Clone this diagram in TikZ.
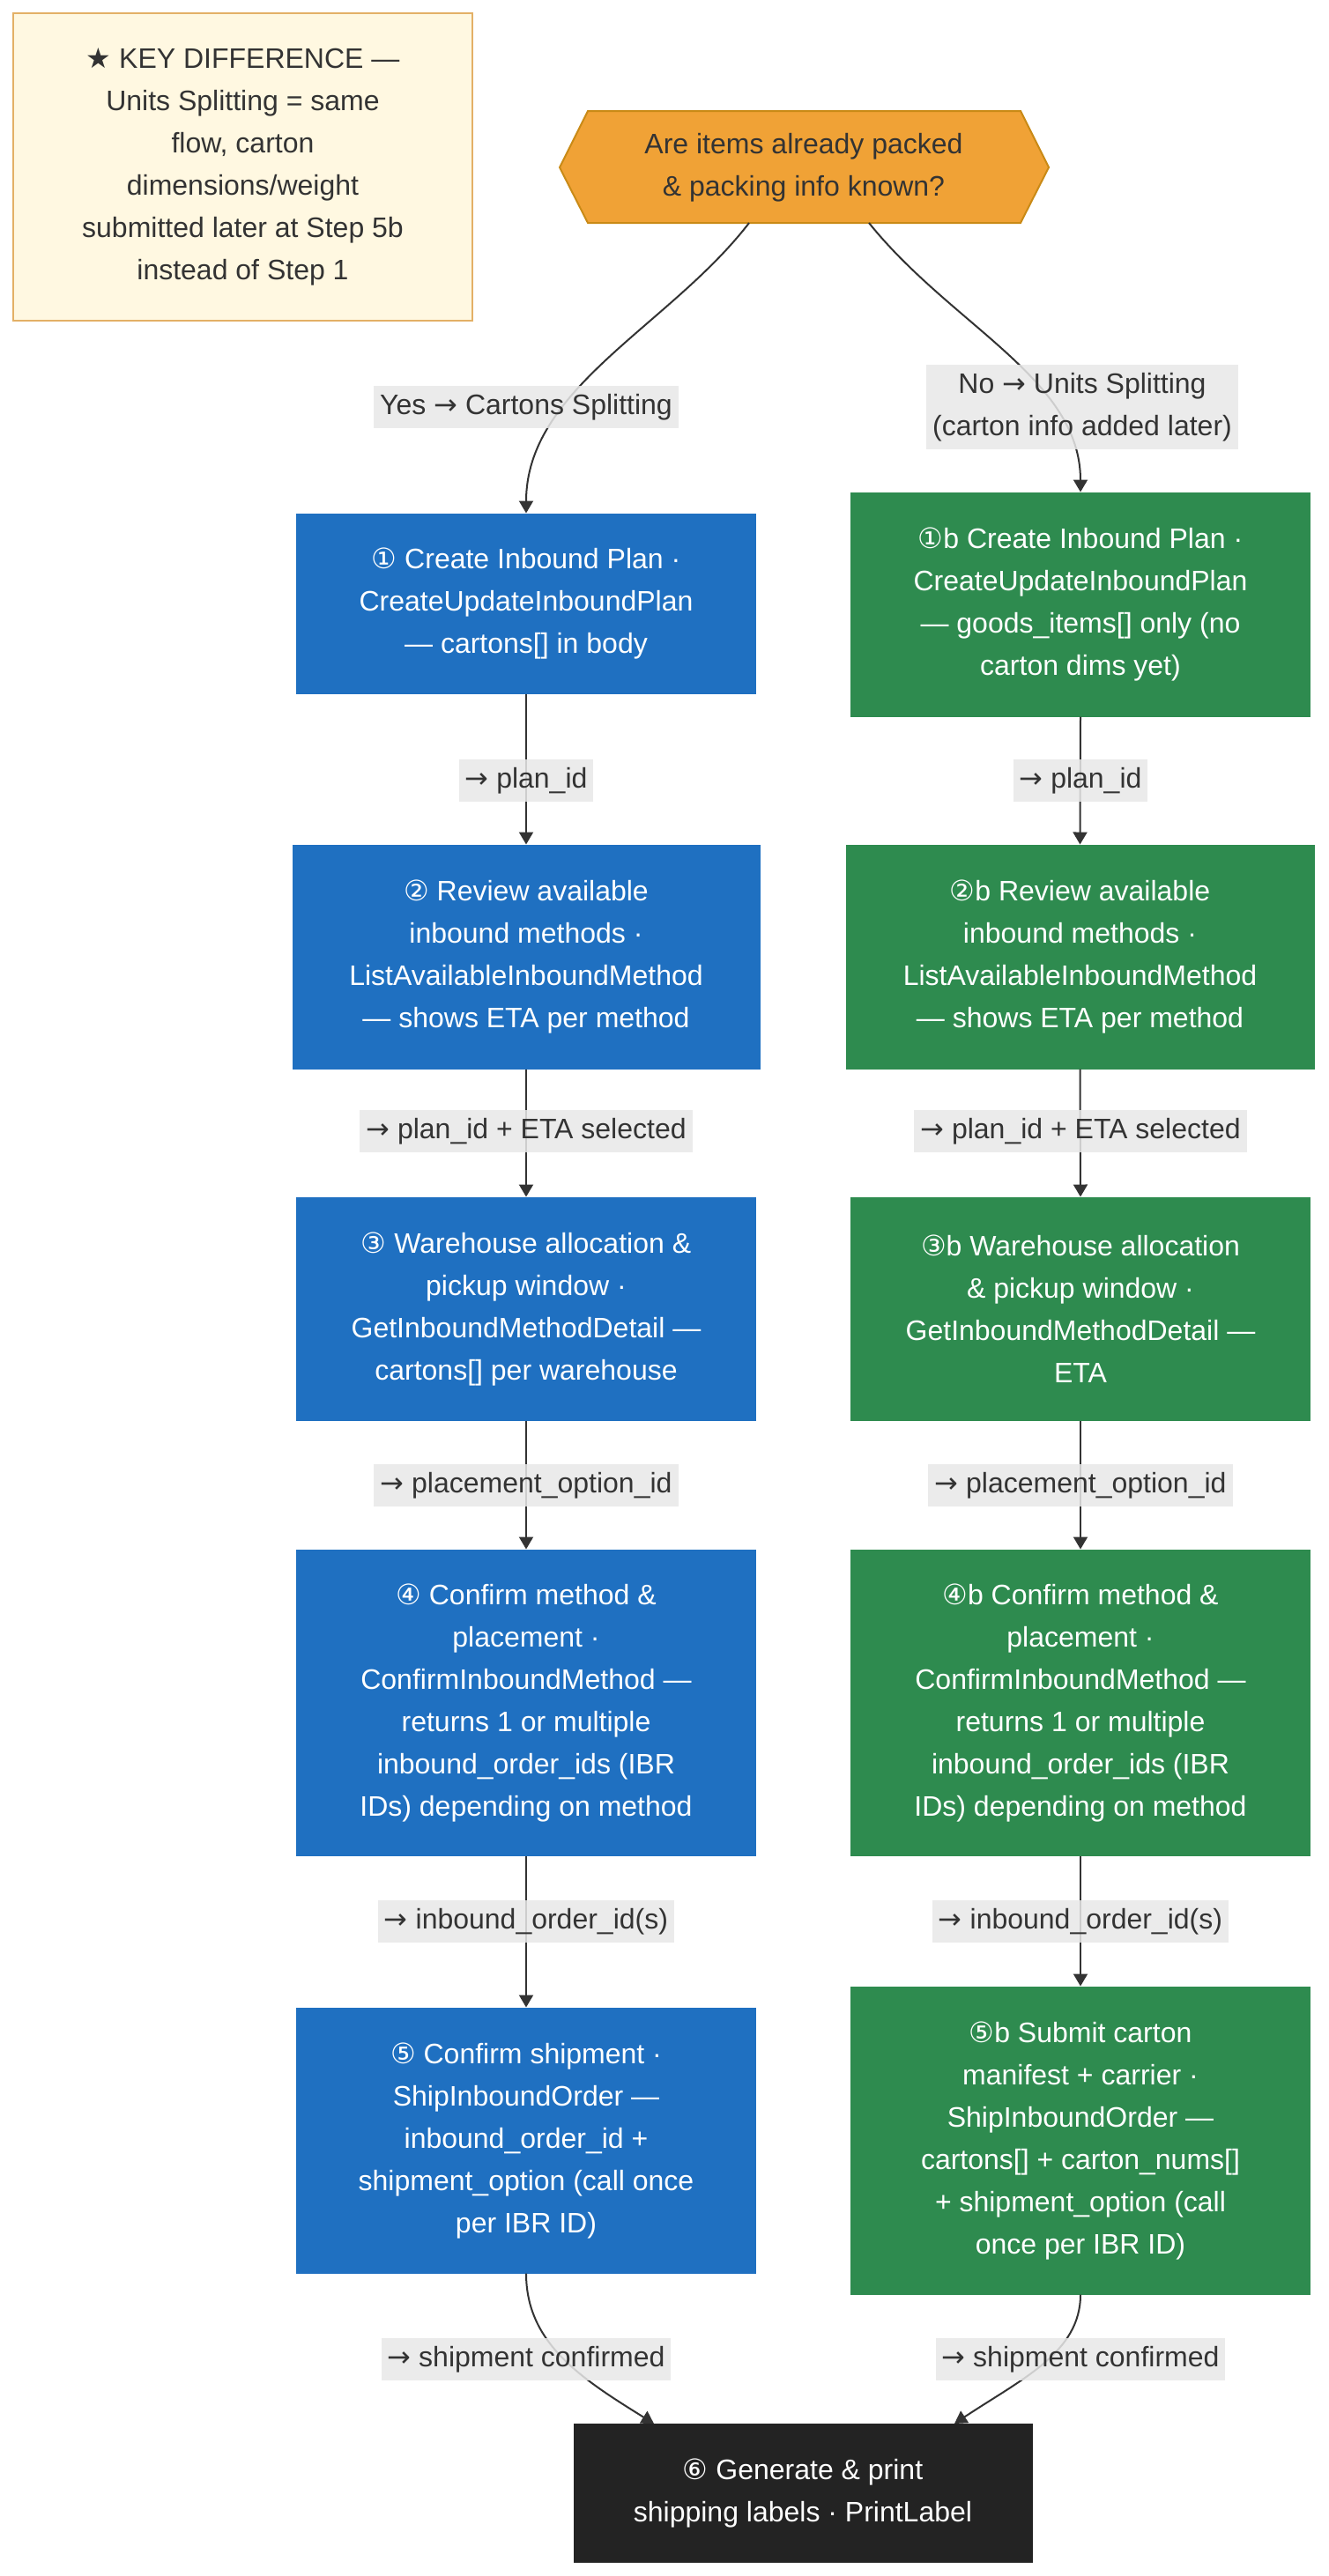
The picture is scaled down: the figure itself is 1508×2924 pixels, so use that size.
\documentclass[tikz,border=0pt]{standalone}
\usepackage{fontspec}
\setmainfont{Liberation Sans}
\newfontfamily\symf{DejaVu Sans}
\usetikzlibrary{arrows.meta}
\definecolor{cblue}{HTML}{1F70C1}
\definecolor{cgreen}{HTML}{2E8B4F}
\definecolor{cblack}{HTML}{232323}
\definecolor{forange}{HTML}{F0A236}
\definecolor{dorange}{HTML}{C98A16}
\definecolor{fkey}{HTML}{FFF8E1}
\definecolor{dkey}{HTML}{E3B066}
\definecolor{clabel}{HTML}{E8E8E8}
\definecolor{ctext}{HTML}{333333}
\definecolor{cline}{HTML}{333333}
\newcommand{\ar}{{\symf →}}
\newcommand{\cn}[1]{{\symf #1}}
\begin{document}
\begin{tikzpicture}[x=0.5pt,y=-0.5pt,
  font=\fontsize{16pt}{24pt}\selectfont,
  stepbox/.style={rectangle, inner sep=0pt, align=center, text=white, line width=0.5pt},
  bluebox/.style={stepbox, fill=cblue, draw=cblue},
  greenbox/.style={stepbox, fill=cgreen, draw=cgreen},
  blackbox/.style={stepbox, fill=cblack, draw=cblack},
  lbl/.style={rectangle, fill=clabel, fill opacity=0.85, text opacity=1, text=ctext,
    inner xsep=3.5pt, inner ysep=0pt, minimum height=24pt, align=center},
  conn/.style={draw=cline, line width=1pt, -{Triangle[length=7pt,width=8pt]}}]
\path[use as bounding box, fill=white] (0,0) rectangle (1508,2924);

% key box
\node[rectangle, fill=fkey, draw=dkey, line width=1pt, text=ctext, align=center,
  minimum width=260.5pt, minimum height=174.5pt, inner sep=0pt] (key) at (275.5,189.5)
  {\cn{★} KEY DIFFERENCE —\\Units Splitting = same\\flow, carton\\dimensions/weight\\submitted later at Step 5b\\instead of Step 1};

% decision hexagon
\coordinate (h1) at (635,190);
\coordinate (h2) at (667,126);
\coordinate (h3) at (1158,126);
\coordinate (h4) at (1190,190);
\coordinate (h5) at (1158,253);
\coordinate (h6) at (667,253);
\path[fill=forange, draw=dorange, line width=1pt] (h1) -- (h2) -- (h3) -- (h4) -- (h5) -- (h6) -- cycle;
\node[text=ctext, align=center, inner sep=0pt] (q) at (912,190) {Are items already packed\\\& packing info known?};
\coordinate (qbl) at (850,253);
\coordinate (qbr) at (986,253);

% blue column
\node[bluebox, minimum width=260.5pt, minimum height=102pt] (b1) at (597,685)
  {\cn{①} Create Inbound Plan ·\\CreateUpdateInboundPlan\\— cartons[] in body};
\node[bluebox, minimum width=265pt, minimum height=127pt] (b2) at (597,1086)
  {\cn{②} Review available\\inbound methods ·\\ListAvailableInboundMethod\\— shows ETA per method};
\node[bluebox, minimum width=260.5pt, minimum height=126.5pt] (b3) at (597,1485.5)
  {\cn{③} Warehouse allocation \&\\pickup window ·\\GetInboundMethodDetail —\\cartons[] per warehouse};
\node[bluebox, minimum width=260.5pt, minimum height=173.5pt] (b4) at (597,1932.5)
  {\cn{④} Confirm method \&\\placement ·\\ConfirmInboundMethod —\\returns 1 or multiple\\inbound\_order\_ids (IBR\\IDs) depending on method};
\node[bluebox, minimum width=260.5pt, minimum height=150.5pt] (b5) at (597,2429.5)
  {\cn{⑤} Confirm shipment ·\\ShipInboundOrder —\\inbound\_order\_id +\\shipment\_option (call once\\per IBR ID)};

% green column
\node[greenbox, minimum width=260.5pt, minimum height=127pt] (g1) at (1226,686)
  {\cn{①}b Create Inbound Plan ·\\CreateUpdateInboundPlan\\— goods\_items[] only (no\\carton dims yet)};
\node[greenbox, minimum width=265.5pt, minimum height=127pt] (g2) at (1225.5,1086)
  {\cn{②}b Review available\\inbound methods ·\\ListAvailableInboundMethod\\— shows ETA per method};
\node[greenbox, minimum width=260.5pt, minimum height=126.5pt] (g3) at (1226,1485.5)
  {\cn{③}b Warehouse allocation\\\& pickup window ·\\GetInboundMethodDetail —\\ETA};
\node[greenbox, minimum width=260.5pt, minimum height=173.5pt] (g4) at (1226,1932.5)
  {\cn{④}b Confirm method \&\\placement ·\\ConfirmInboundMethod —\\returns 1 or multiple\\inbound\_order\_ids (IBR\\IDs) depending on method};
\node[greenbox, minimum width=260.5pt, minimum height=174.5pt] (g5) at (1226,2429.5)
  {\cn{⑤}b Submit carton\\manifest + carrier ·\\ShipInboundOrder —\\cartons[] + carton\_nums[]\\+ shipment\_option (call\\once per IBR ID)};

% final
\node[blackbox, minimum width=260pt, minimum height=78.5pt] (fin) at (911,2829.5)
  {\cn{⑥} Generate \& print\\shipping labels · PrintLabel};
\coordinate (finL) at (742,2751);
\coordinate (finR) at (1083,2751);

% connectors
\draw[conn] (qbl) .. controls (760,370) and (597,440) .. (b1.north);
\draw[conn] (qbr) .. controls (1080,370) and (1226,430) .. (g1.north);
\draw[conn] (b1.south) -- (b2.north);
\draw[conn] (b2.south) -- (b3.north);
\draw[conn] (b3.south) -- (b4.north);
\draw[conn] (b4.south) -- (b5.north);
\draw[conn] (g1.south) -- (g2.north);
\draw[conn] (g2.south) -- (g3.north);
\draw[conn] (g3.south) -- (g4.north);
\draw[conn] (g4.south) -- (g5.north);
\draw[conn] (b5.south) .. controls (597,2660) and (660,2700) .. (finL);
\draw[conn] (g5.south) .. controls (1226,2670) and (1160,2700) .. (finR);

% edge labels
\node[lbl] (lyes) at (597,462) {Yes \ar{} Cartons Splitting};
\node[lbl, minimum height=48pt] (lno) at (1228,462) {No \ar{} Units Splitting\\(carton info added later)};
\node[lbl] (l1a) at (597,886) {\ar{} plan\_id};
\node[lbl] (l1b) at (1226,886) {\ar{} plan\_id};
\node[lbl] (l2a) at (597,1284) {\ar{} plan\_id + ETA selected};
\node[lbl] (l2b) at (1226,1284) {\ar{} plan\_id + ETA selected};
\node[lbl] (l3a) at (597,1686) {\ar{} placement\_option\_id};
\node[lbl] (l3b) at (1226,1686) {\ar{} placement\_option\_id};
\node[lbl] (l4a) at (597,2181) {\ar{} inbound\_order\_id(s)};
\node[lbl] (l4b) at (1226,2181) {\ar{} inbound\_order\_id(s)};
\node[lbl] (l5a) at (597,2678) {\ar{} shipment confirmed};
\node[lbl] (l5b) at (1226,2678) {\ar{} shipment confirmed};
\end{tikzpicture}
\end{document}
